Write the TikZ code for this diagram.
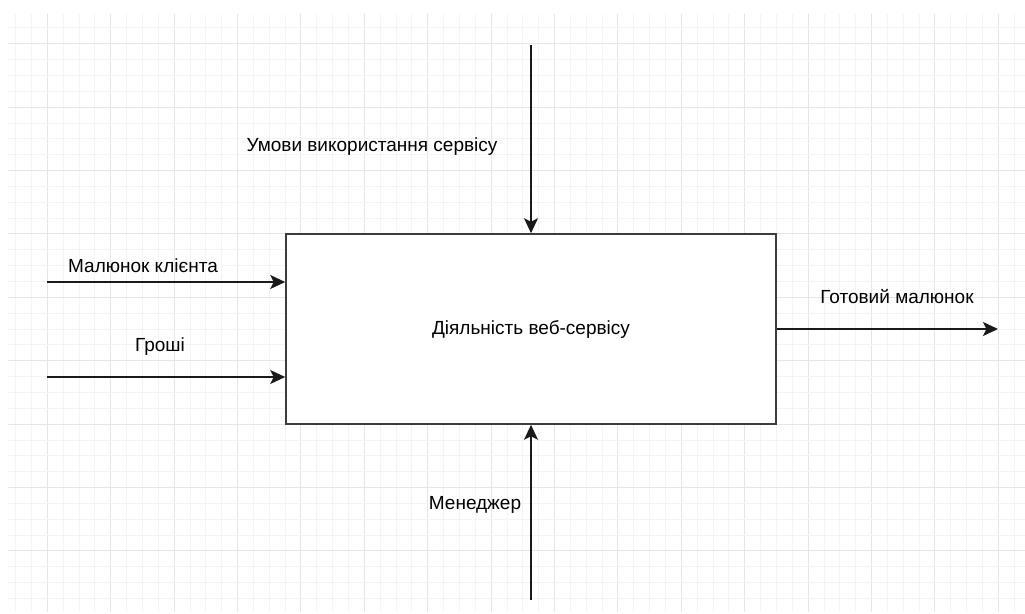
\documentclass[tikz,border=0pt]{standalone}
\usepackage{fontspec}
\setmainfont{Liberation Sans}
\usetikzlibrary{arrows.meta}
\definecolor{gridminor}{HTML}{F4F4F4}
\definecolor{gridmajor}{HTML}{E6E6E6}
\definecolor{ink}{HTML}{1A1A1A}
\tikzset{
  lbl/.style={font=\fontsize{19}{22}\selectfont, text=black, inner sep=0pt},
  flow/.style={draw=ink, line width=1.6pt, -{Stealth[length=15pt,width=14pt,inset=3.5pt]}},
  mainbox/.style={draw=ink!85, line width=1.6pt, fill=white, minimum width=490pt, minimum height=190pt, inner sep=0pt},
}
\begin{document}
\begin{tikzpicture}[x=1pt,y=-1pt]
\useasboundingbox[fill=white] (0,0) rectangle (1025,613);
% grid
\begin{scope}
\clip (8,14) rectangle (1025,611);
\foreach \i in {-3,...,62} {
  \pgfmathtruncatemacro{\m}{mod(\i+40,4)}
  \ifnum\m=0\relax
    \draw[gridmajor, line width=1pt] ({47.3+\i*15.85},0) -- ({47.3+\i*15.85},613);
  \else
    \draw[gridminor, line width=0.8pt] ({47.3+\i*15.85},0) -- ({47.3+\i*15.85},613);
  \fi
}
\foreach \i in {-3,...,40} {
  \pgfmathtruncatemacro{\m}{mod(\i+40,4)}
  \ifnum\m=0\relax
    \draw[gridmajor, line width=1pt] (0,{43.7+\i*15.85}) -- (1025,{43.7+\i*15.85});
  \else
    \draw[gridminor, line width=0.8pt] (0,{43.7+\i*15.85}) -- (1025,{43.7+\i*15.85});
  \fi
}
\end{scope}
% main box
\node[mainbox] (act) at (531,329) {};
\node[lbl] (actlbl) at (531,329) {Діяльність веб-сервісу};
% free ends
\coordinate (ctop) at (531,45);
\coordinate (cbot) at (531,600);
\coordinate (cin1) at (47,282);
\coordinate (cin2) at (47,377);
\coordinate (cout) at (998,329);
% connectors
\draw[flow] (ctop) -- (act.north);
\draw[flow] (cbot) -- (act.south);
\draw[flow] (cin1) -- (cin1 -| act.west);
\draw[flow] (cin2) -- (cin2 -| act.west);
\draw[flow] (act.east) -- (cout);
% labels
\node[lbl] (lctl) at (372,147) {Умови використання сервісу};
\node[lbl] (lin1) at (143,266) {Малюнок клієнта};
\node[lbl] (lin2) at (160,347) {Гроші};
\node[lbl] (lout) at (897,297) {Готовий малюнок};
\node[lbl] (lmech) at (475,505) {Менеджер};
\end{tikzpicture}
\end{document}
